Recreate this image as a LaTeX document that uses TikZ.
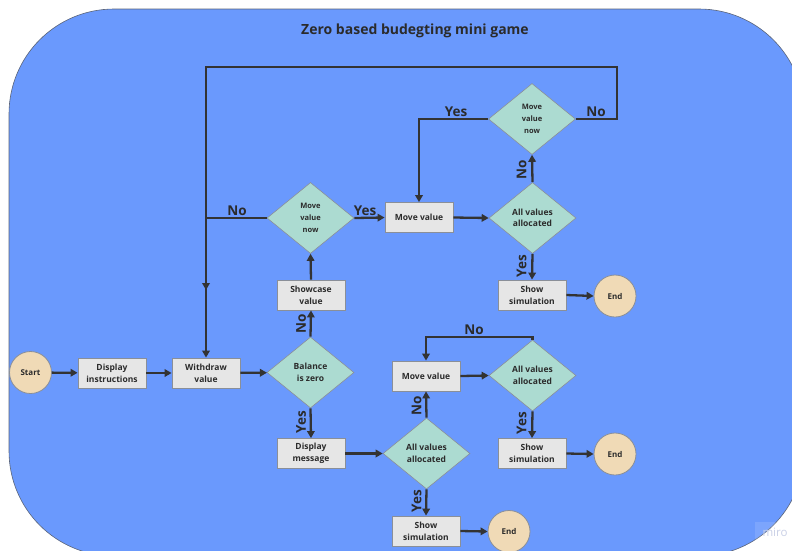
\documentclass[tikz,border=0pt]{standalone}
\usepackage{fontspec}
\setmainfont{Open Sans}
\usetikzlibrary{shapes.geometric,arrows.meta}

\definecolor{bgblue}{HTML}{6A99FD}
\definecolor{bgedge}{HTML}{5A6478}
\definecolor{decfill}{HTML}{ACDBD1}
\definecolor{boxfill}{HTML}{E6E6E6}
\definecolor{shapeedge}{HTML}{8A8F98}
\definecolor{termfill}{HTML}{F0DAB6}
\definecolor{inkdark}{HTML}{2B2B2B}
\definecolor{flowline}{HTML}{333333}
\definecolor{marklight}{HTML}{C9D0E6}

\tikzset{
  stepbox/.style={rectangle, draw=shapeedge, line width=0.8pt, fill=boxfill,
    minimum width=68pt, minimum height=30pt, inner sep=1pt, align=center,
    text=inkdark, font=\fontsize{8.5}{12}\selectfont\bfseries},
  decision/.style={diamond, draw=shapeedge, line width=0.6pt, fill=decfill,
    minimum width=87pt, minimum height=71pt, inner sep=0pt, align=center,
    text=inkdark, font=\fontsize{8.5}{11.5}\selectfont\bfseries},
  smalldecision/.style={decision, font=\fontsize{7.5}{12}\selectfont\bfseries},
  terminal/.style={circle, draw=shapeedge, line width=0.8pt, fill=termfill,
    minimum size=42pt, inner sep=0pt, text=inkdark,
    font=\fontsize{8}{10}\selectfont\bfseries},
  flow/.style={draw=flowline, line width=2.3pt, -{Triangle[length=7pt,width=7.5pt]}},
  answer/.style={text=inkdark, inner sep=0pt, font=\fontsize{13.5}{14}\selectfont\bfseries},
}

\begin{document}
\begin{tikzpicture}[x=1pt,y=-1pt]
\useasboundingbox (0,0) rectangle (792,550);

% rounded backdrop, running off the right and bottom edges
\begin{scope}
  \clip (0,0) rectangle (792,550);
  \draw[fill=bgblue, draw=bgedge, line width=0.6pt, rounded corners=105pt]
    (9,9) rectangle (804,556);
\end{scope}

\node[text=inkdark, font=\fontsize{14}{16}\selectfont\bfseries] (title) at (415,31)
  {Zero based budegting mini game};

% main row
\node[terminal] (start) at (30.5,372.5) {Start};
\node[stepbox] (instr) at (112,373) {Display\\instructions};
\node[stepbox] (withdraw) at (206,373) {Withdraw\\value};
\node[decision] (balance) at (310.5,372.5) {Balance\\is zero};

% upper branch
\node[stepbox] (showcase) at (311,295) {Showcase\\value};
\node[smalldecision] (nowA) at (310.5,218) {Move\\value\\now};
\node[stepbox] (moveB) at (419,217.5) {Move value};
\node[decision] (allocC) at (532.5,218) {All values\\allocated};
\node[stepbox] (showC) at (532,295) {Show\\simulation};
\node[terminal] (endC) at (615,296) {End};
\node[smalldecision] (nowB) at (532,119) {Move\\value\\now};

% lower branch
\node[stepbox] (dispmsg) at (311,453.5) {Display\\message};
\node[decision] (allocA) at (426.5,453.5) {All values\\allocated};
\node[stepbox] (showA) at (426,531) {Show\\simulation};
\node[terminal] (endA) at (509,531.5) {End};
\node[stepbox] (moveA) at (426,376) {Move value};
\node[decision] (allocB) at (532.5,375.5) {All values\\allocated};
\node[stepbox] (showB) at (532,453.5) {Show\\simulation};
\node[terminal] (endB) at (615,454) {End};

% bend points
\coordinate (loopR) at (617,67);
\coordinate (loopL) at (withdraw.north |- loopR);
\coordinate (joinNo) at (206,290);
\coordinate (retTop) at (532.5,337);

% main row connectors
\draw[flow] (start) -- (instr);
\draw[flow] (instr) -- (withdraw);
\draw[flow] (withdraw) -- (balance);
\draw[flow] (balance.north) -- (showcase.south);
\draw[flow] (balance.south) -- (dispmsg.north);

% upper branch connectors
\draw[flow] (showcase.north) -- (nowA.south);
\draw[flow] (nowA.east) -- (moveB.west);
\draw[flow] (nowA.west) -| (joinNo);
\draw[flow] (moveB.east) -- (allocC.west);
\draw[flow] (allocC.south) -- (showC.north);
\draw[flow] (showC.east) -- (endC.west);
\draw[flow] (allocC.north) -- (nowB.south);
\draw[flow] (nowB.west) -| (moveB.north);
\draw[flow] (nowB.east) -| (loopR) -- (loopL) -- (withdraw.north);

% lower branch connectors
\draw[flow] (dispmsg.east) -- (allocA.west);
\draw[flow] (allocA.south) -- (showA.north);
\draw[flow] (showA.east) -- (endA.west);
\draw[flow] (allocA.north) -- (moveA.south);
\draw[flow] (moveA.east) -- (allocB.west);
\draw[flow] (allocB.south) -- (showB.north);
\draw[flow] (showB.east) -- (endB.west);
\draw[flow] (allocB.north) -- (retTop) -| (moveA.north);

% branch answers
\node[answer] (yesTop) at (456,112) {Yes};
\node[answer] (noTop) at (596,112) {No};
\node[answer, rotate=90] (noUp) at (521.5,170) {No};
\node[answer] (noMid) at (237,210.5) {No};
\node[answer] (yesMid) at (365,210.5) {Yes};
\node[answer, rotate=90] (yesC) at (521.5,266) {Yes};
\node[answer, rotate=90] (noBal) at (301,324) {No};
\node[answer, rotate=90] (yesBal) at (301,422) {Yes};
\node[answer] (noLoop) at (474,329.5) {No};
\node[answer, rotate=90] (noA) at (416.5,406) {No};
\node[answer, rotate=90] (yesA) at (416.5,501.5) {Yes};
\node[answer, rotate=90] (yesB) at (521.5,423) {Yes};

% watermark
\fill[white, opacity=0.12] (755,522) rectangle (792,542);
\node[text=marklight, font=\fontsize{11.5}{12}\selectfont] (wm) at (775,532) {miro};
\end{tikzpicture}
\end{document}
